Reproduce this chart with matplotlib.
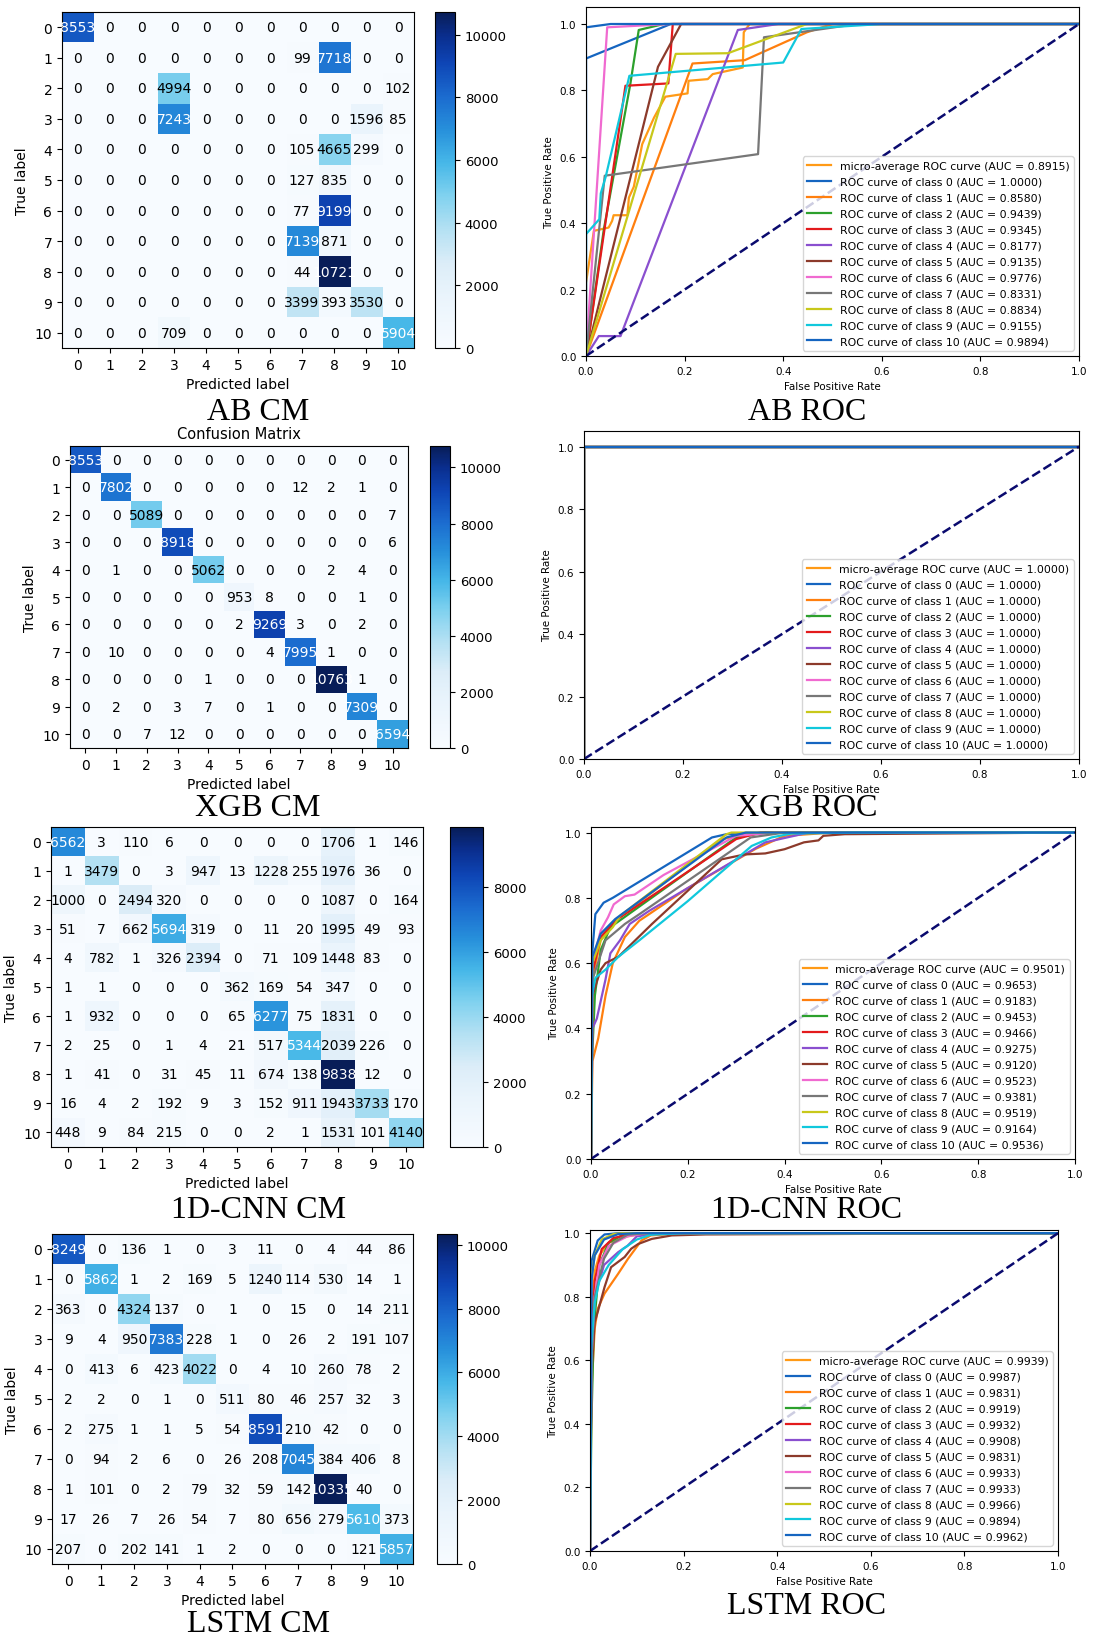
import matplotlib
matplotlib.use('Agg')
import matplotlib.pyplot as plt
from matplotlib.colors import LinearSegmentedColormap
import numpy as np

plt.rcParams['font.family'] = ['DejaVu Sans']

W, H = 1094, 1640
labels = list(range(11))

# confusion matrices (rows = true label, cols = predicted label)
cm_ab = [
    [8553, 0, 0, 0, 0, 0, 0, 0, 0, 0, 0],
    [0, 0, 0, 0, 0, 0, 0, 99, 7718, 0, 0],
    [0, 0, 0, 4994, 0, 0, 0, 0, 0, 0, 102],
    [0, 0, 0, 7243, 0, 0, 0, 0, 0, 1596, 85],
    [0, 0, 0, 0, 0, 0, 0, 105, 4665, 299, 0],
    [0, 0, 0, 0, 0, 0, 0, 127, 835, 0, 0],
    [0, 0, 0, 0, 0, 0, 0, 77, 9199, 0, 0],
    [0, 0, 0, 0, 0, 0, 0, 7139, 871, 0, 0],
    [0, 0, 0, 0, 0, 0, 0, 44, 10721, 0, 0],
    [0, 0, 0, 0, 0, 0, 0, 3399, 393, 3530, 0],
    [0, 0, 0, 709, 0, 0, 0, 0, 0, 0, 5904],
]
cm_xgb = [
    [8553, 0, 0, 0, 0, 0, 0, 0, 0, 0, 0],
    [0, 7802, 0, 0, 0, 0, 0, 12, 2, 1, 0],
    [0, 0, 5089, 0, 0, 0, 0, 0, 0, 0, 7],
    [0, 0, 0, 8918, 0, 0, 0, 0, 0, 0, 6],
    [0, 1, 0, 0, 5062, 0, 0, 0, 2, 4, 0],
    [0, 0, 0, 0, 0, 953, 8, 0, 0, 1, 0],
    [0, 0, 0, 0, 0, 2, 9269, 3, 0, 2, 0],
    [0, 10, 0, 0, 0, 0, 4, 7995, 1, 0, 0],
    [0, 0, 0, 0, 1, 0, 0, 0, 10763, 1, 0],
    [0, 2, 0, 3, 7, 0, 1, 0, 0, 7309, 0],
    [0, 0, 7, 12, 0, 0, 0, 0, 0, 0, 6594],
]
cm_cnn = [
    [6562, 3, 110, 6, 0, 0, 0, 0, 1706, 1, 146],
    [1, 3479, 0, 3, 947, 13, 1228, 255, 1976, 36, 0],
    [1000, 0, 2494, 320, 0, 0, 0, 0, 1087, 0, 164],
    [51, 7, 662, 5694, 319, 0, 11, 20, 1995, 49, 93],
    [4, 782, 1, 326, 2394, 0, 71, 109, 1448, 83, 0],
    [1, 1, 0, 0, 0, 362, 169, 54, 347, 0, 0],
    [1, 932, 0, 0, 0, 65, 6277, 75, 1831, 0, 0],
    [2, 25, 0, 1, 4, 21, 517, 5344, 2039, 226, 0],
    [1, 41, 0, 31, 45, 11, 674, 138, 9838, 12, 0],
    [16, 4, 2, 192, 9, 3, 152, 911, 1943, 3733, 170],
    [448, 9, 84, 215, 0, 0, 2, 1, 1531, 101, 4140],
]
cm_lstm = [
    [8249, 0, 136, 1, 0, 3, 11, 0, 4, 44, 86],
    [0, 5862, 1, 2, 169, 5, 1240, 114, 530, 14, 1],
    [363, 0, 4324, 137, 0, 1, 0, 15, 0, 14, 211],
    [9, 4, 950, 7383, 228, 1, 0, 26, 2, 191, 107],
    [0, 413, 6, 423, 4022, 0, 4, 10, 260, 78, 2],
    [2, 2, 0, 1, 0, 511, 80, 46, 257, 32, 3],
    [2, 275, 1, 1, 5, 54, 8591, 210, 42, 0, 0],
    [0, 94, 2, 6, 0, 26, 208, 7045, 384, 406, 8],
    [1, 101, 0, 2, 79, 32, 59, 142, 10335, 40, 0],
    [17, 26, 7, 26, 54, 7, 80, 656, 279, 5610, 373],
    [207, 0, 202, 141, 1, 2, 0, 0, 0, 121, 5857],
]

# AUC values: micro-average first, then classes 0..10
auc_ab = [0.8915, 1.0000, 0.8580, 0.9439, 0.9345, 0.8177, 0.9135, 0.9776, 0.8331, 0.8834, 0.9155, 0.9894]
auc_xgb = [1.0] * 12
auc_cnn = [0.9501, 0.9653, 0.9183, 0.9453, 0.9466, 0.9275, 0.9120, 0.9523, 0.9381, 0.9519, 0.9164, 0.9536]
auc_lstm = [0.9939, 0.9987, 0.9831, 0.9919, 0.9932, 0.9908, 0.9831, 0.9933, 0.9933, 0.9966, 0.9894, 0.9962]

# ROC curves: (fpr list, tpr list); micro-average first, then classes 0..10
roc_ab = [
    ([0, 0, 0.016, 0.046, 0.053, 0.056, 0.084, 0.087, 0.097, 0.114, 0.138, 0.161, 0.206, 0.208, 0.247, 0.257, 0.318, 0.32, 0.332, 1],
     [0, 0.22, 0.377, 0.387, 0.407, 0.424, 0.424, 0.477, 0.51, 0.638, 0.718, 0.781, 0.791, 0.829, 0.834, 0.849, 0.869, 0.975, 1, 1]),
    ([0, 0, 0.172, 1], [0, 0.896, 1, 1]),
    ([0, 0.216, 0.322, 0.448, 0.5, 1], [0, 0.881, 0.891, 0.975, 1, 1]),
    ([0, 0.036, 0.09, 0.107, 0.158, 1], [0, 0.38, 0.82, 0.982, 1, 1]),
    ([0, 0.08, 0.167, 0.176, 1], [0, 0.814, 0.821, 1, 1]),
    ([0, 0.026, 0.07, 0.308, 0.39, 1], [0, 0.06, 0.06, 0.982, 1, 1]),
    ([0, 0.146, 0.193, 1], [0, 0.871, 1, 1]),
    ([0, 0.043, 0.172, 1], [0, 0.99, 1, 1]),
    ([0, 0.038, 0.349, 0.361, 0.48, 0.55, 1], [0, 0.543, 0.608, 0.96, 0.985, 1, 1]),
    ([0, 0.182, 0.288, 0.448, 1], [0, 0.91, 0.912, 1, 1]),
    ([0, 0, 0.027, 0.03, 0.04, 0.088, 0.40, 0.437, 0.6, 1], [0, 0.367, 0.412, 0.49, 0.54, 0.844, 0.884, 0.985, 1, 1]),
    ([0, 0, 0.05, 1], [0, 0.99, 1, 1]),
]
roc_xgb = [([0, 0, 1], [0, 1, 1])] * 12
roc_cnn = [
    ([0, 0.003, 0.02, 0.05, 0.27, 0.35, 1], [0, 0.55, 0.67, 0.73, 0.98, 1, 1]),
    ([0, 0.002, 0.009, 0.026, 0.045, 0.25, 0.28, 0.4, 1], [0, 0.62, 0.75, 0.785, 0.80, 0.985, 0.995, 1, 1]),
    ([0, 0.003, 0.015, 0.03, 0.045, 0.07, 0.1, 0.2, 0.34, 0.4, 0.5, 1], [0, 0.3, 0.37, 0.5, 0.6, 0.68, 0.73, 0.83, 0.95, 0.99, 1, 1]),
    ([0, 0.002, 0.008, 0.02, 0.04, 0.3, 0.36, 1], [0, 0.3, 0.5, 0.64, 0.71, 0.985, 1, 1]),
    ([0, 0.003, 0.02, 0.05, 0.30, 0.35, 1], [0, 0.57, 0.68, 0.73, 0.98, 1, 1]),
    ([0, 0.003, 0.012, 0.03, 0.04, 0.06, 0.08, 0.12, 0.36, 0.45, 1], [0, 0.4, 0.43, 0.55, 0.63, 0.67, 0.72, 0.76, 0.97, 1, 1]),
    ([0, 0.003, 0.02, 0.03, 0.057, 0.126, 0.27, 0.318, 0.36, 0.40, 0.44, 0.47, 0.48, 0.524, 1],
     [0, 0.5, 0.58, 0.6, 0.62, 0.72, 0.918, 0.933, 0.936, 0.949, 0.97, 0.976, 0.99, 0.995, 1]),
    ([0, 0.003, 0.02, 0.035, 0.047, 0.07, 0.09, 0.15, 0.30, 0.38, 1], [0, 0.6, 0.70, 0.74, 0.78, 0.805, 0.81, 0.87, 0.99, 1, 1]),
    ([0, 0.003, 0.03, 0.07, 0.1, 0.33, 0.4, 1], [0, 0.55, 0.67, 0.72, 0.75, 0.985, 1, 1]),
    ([0, 0.003, 0.02, 0.045, 0.06, 0.28, 0.29, 1], [0, 0.6, 0.67, 0.71, 0.745, 0.995, 1, 1]),
    ([0, 0.002, 0.009, 0.03, 0.057, 0.1, 0.2, 0.27, 0.332, 0.373, 0.414, 0.55, 1],
     [0, 0.5, 0.555, 0.58, 0.62, 0.67, 0.79, 0.88, 0.959, 0.985, 0.997, 1, 1]),
    ([0, 0.003, 0.02, 0.05, 0.28, 0.32, 1], [0, 0.62, 0.69, 0.735, 0.985, 1, 1]),
]
roc_lstm = [
    ([0, 0.002, 0.01, 0.02, 0.04, 0.08, 0.12, 1], [0, 0.7, 0.88, 0.93, 0.97, 0.99, 1, 1]),
    ([0, 0.0036, 0.0165, 0.031, 0.06, 1], [0, 0.914, 0.977, 0.996, 1, 1]),
    ([0, 0.003, 0.01, 0.0165, 0.031, 0.06, 0.081, 0.11, 0.13, 0.2, 1], [0, 0.5, 0.7, 0.762, 0.81, 0.872, 0.919, 0.977, 0.993, 1, 1]),
    ([0, 0.003, 0.008, 0.02, 0.04, 0.07, 0.1, 1], [0, 0.4, 0.7, 0.9, 0.97, 0.995, 1, 1]),
    ([0, 0.003, 0.01, 0.025, 0.05, 0.1, 1], [0, 0.6, 0.85, 0.95, 0.985, 1, 1]),
    ([0, 0.003, 0.01, 0.03, 0.06, 0.08, 0.1, 0.15, 1], [0, 0.6, 0.8, 0.9, 0.94, 0.96, 0.99, 1, 1]),
    ([0, 0.003, 0.01, 0.0165, 0.031, 0.045, 0.074, 0.088, 0.103, 0.132, 0.175, 0.247, 1],
     [0, 0.55, 0.72, 0.752, 0.83, 0.893, 0.925, 0.951, 0.966, 0.982, 0.993, 0.996, 1]),
    ([0, 0.003, 0.01, 0.02, 0.04, 0.08, 0.12, 1], [0, 0.6, 0.8, 0.9, 0.96, 0.99, 1, 1]),
    ([0, 0.003, 0.01, 0.03, 0.05, 0.08, 0.12, 1], [0, 0.6, 0.8, 0.92, 0.97, 0.995, 1, 1]),
    ([0, 0.002, 0.01, 0.025, 0.05, 0.07, 1], [0, 0.85, 0.93, 0.98, 0.997, 1, 1]),
    ([0, 0.003, 0.01, 0.02, 0.04, 0.07, 0.1, 0.13, 0.2, 1], [0, 0.65, 0.78, 0.85, 0.9, 0.95, 0.98, 0.995, 1, 1]),
    ([0, 0.003, 0.01, 0.03, 0.06, 0.1, 1], [0, 0.85, 0.93, 0.98, 0.997, 1, 1]),
]

roc_colors = ['#ff9a16', '#1565c0', '#ff7f0e', '#2ca02c', '#e31a1c', '#8a4fcf',
              '#8c3a2b', '#f06ad0', '#777777', '#c8c81a', '#10c8dc', '#1565c0']

# brighter "Blues" like the reference
cm_map = LinearSegmentedColormap.from_list('blues_bright', [
    (0.0, '#f7fbff'), (0.15, '#eaf4fc'), (0.25, '#dcedf8'), (0.35, '#b5e1f3'),
    (0.45, '#82d2ef'), (0.55, '#47b8e8'), (0.65, '#2790db'), (0.75, '#1b6bcf'),
    (0.85, '#0e45b5'), (0.93, '#0a2e8e'), (1.0, '#081d58')])

fig = plt.figure(figsize=(W / 100, H / 100), dpi=100)


def px_axes(l, r, t, b):
    return fig.add_axes([l / W, 1 - b / H, (r - l) / W, (b - t) / H])


def draw_cm(cm, box, cbox, cticks, title=None):
    cm = np.array(cm)
    ax = px_axes(*box)
    cax = px_axes(*cbox)
    im = ax.imshow(cm, cmap=cm_map, aspect='auto', interpolation='nearest')
    cb = fig.colorbar(im, cax=cax, ticks=cticks)
    cb.ax.tick_params(labelsize=9.5)
    thresh = cm.max() / 2.0
    for i in range(cm.shape[0]):
        for j in range(cm.shape[1]):
            ax.text(j, i, str(cm[i, j]), ha='center', va='center', fontsize=10,
                    color='white' if cm[i, j] > thresh else 'black')
    ax.set_xticks(range(len(labels)))
    ax.set_yticks(range(len(labels)))
    ax.set_xticklabels(labels)
    ax.set_yticklabels(labels)
    ax.tick_params(labelsize=10)
    ax.set_xlabel('Predicted label', fontsize=10)
    ax.set_ylabel('True label', fontsize=10)
    if title:
        ax.set_title(title, fontsize=10.5)


def draw_roc(curves, aucs, box, ytop):
    ax = px_axes(*box)
    names = ['micro-average ROC curve'] + ['ROC curve of class %d' % k for k in labels]
    for (fpr, tpr), auc, name, c in zip(curves, aucs, names, roc_colors):
        ax.plot(fpr, tpr, color=c, lw=1.6, label='%s (AUC = %.4f)' % (name, auc))
    ax.plot([0, 1], [0, 1], color='#0a0a6e', lw=1.8, linestyle='--')
    ax.set_xlim(0, 1)
    ax.set_ylim(0, ytop)
    ax.set_xticks(np.linspace(0, 1, 6))
    ax.set_yticks(np.linspace(0, 1, 6))
    ax.tick_params(labelsize=7.5)
    ax.set_xlabel('False Positive Rate', fontsize=7.5)
    ax.set_ylabel('True Positive Rate', fontsize=7.5)
    ax.legend(loc='lower right', fontsize=7.8, labelspacing=0.55, handlelength=2.2)


cb_ticks = [0, 2000, 4000, 6000, 8000, 10000]

draw_cm(cm_ab, (62, 414, 13, 349), (435, 455, 13, 349), cb_ticks)
draw_roc(roc_ab, auc_ab, (586, 1079, 8.4, 357), 1.05)

draw_cm(cm_xgb, (70, 408, 447, 749), (430, 450, 447, 749), cb_ticks, title='Confusion Matrix')
draw_roc(roc_xgb, auc_xgb, (584, 1079, 432, 760), 1.05)

draw_cm(cm_cnn, (51, 423, 828, 1148), (450, 483, 828, 1148), cb_ticks[:5])
draw_roc(roc_cnn, auc_cnn, (591, 1075, 828, 1160), 1.017)

draw_cm(cm_lstm, (52, 413, 1235, 1565), (437, 457, 1235, 1565), cb_ticks)
draw_roc(roc_lstm, auc_lstm, (590, 1058, 1231, 1552), 1.01)

captions = ['AB CM', 'AB ROC', 'XGB CM', 'XGB ROC', '1D-CNN CM', '1D-CNN ROC', 'LSTM CM', 'LSTM ROC']
cap_x = [258, 807, 258, 807, 259, 807, 259, 807]
cap_y = [412, 412, 809, 809, 1211, 1211, 1625, 1607]
for txt, x, y in zip(captions, cap_x, cap_y):
    fig.text(x / W, 1 - y / H, txt, ha='center', va='center', fontsize=23,
             family=['Liberation Serif', 'DejaVu Serif'])

fig.savefig('out.png', dpi=100)
